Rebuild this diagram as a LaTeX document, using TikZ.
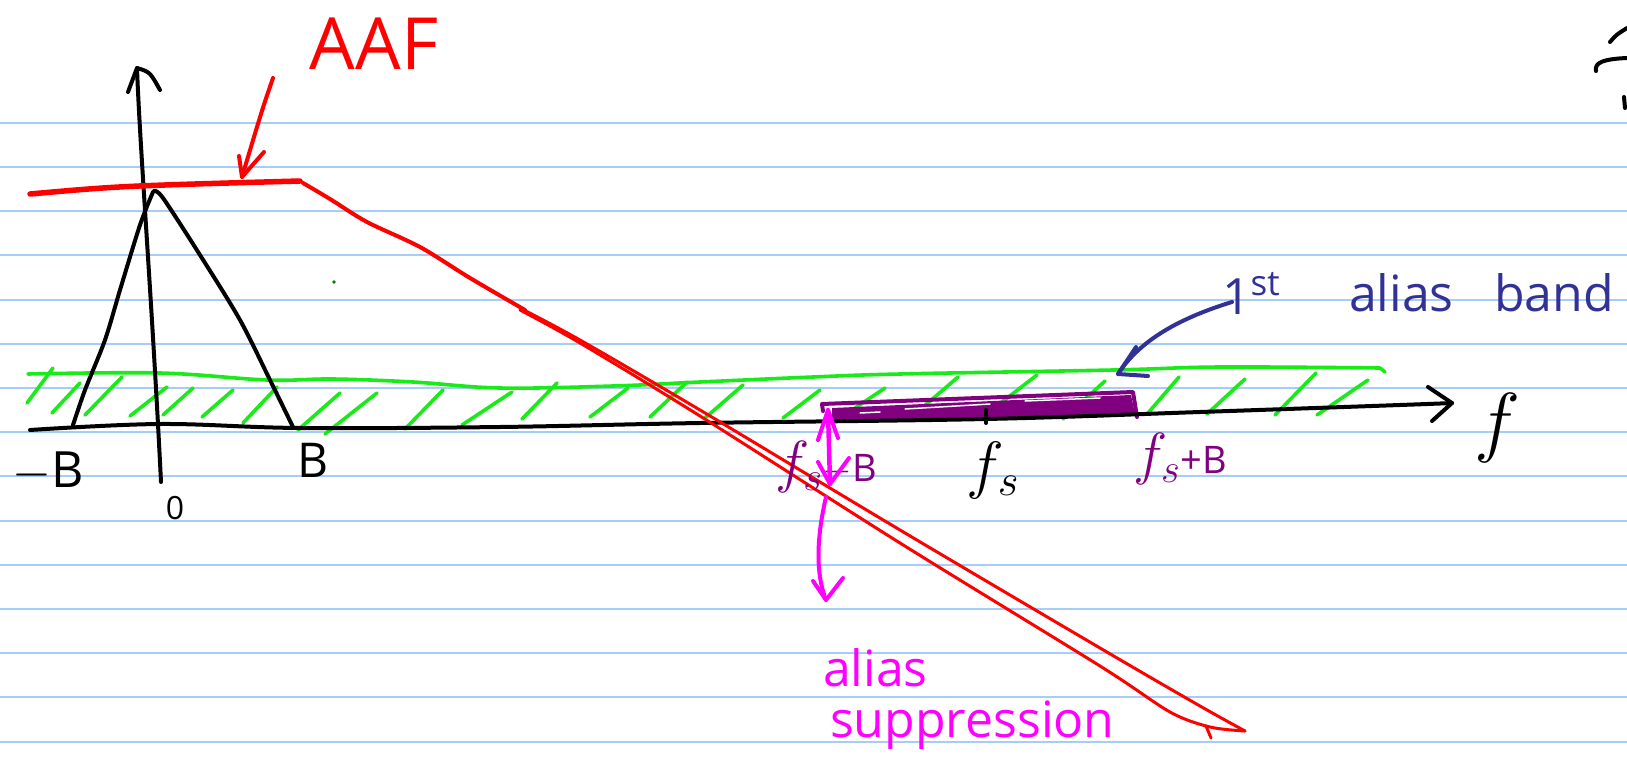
\RequirePackage{fix-cm}
\documentclass[tikz,border=0pt]{standalone}
\usepackage{fontspec}
\newfontfamily\hand{Open Sans}
\newcommand\penfs[1]{\fontsize{#1}{#1}\selectfont}
\definecolor{ruleblue}{RGB}{165,205,245}
\definecolor{penred}{RGB}{255,0,0}
\definecolor{pengreen}{RGB}{25,235,25}
\definecolor{penpurple}{RGB}{128,0,128}
\definecolor{penblue}{RGB}{50,50,150}
\definecolor{penmag}{RGB}{255,0,255}
\definecolor{dotgreen}{RGB}{0,120,0}
\begin{document}
\begin{tikzpicture}[x=1pt,y=-1pt,line cap=round,line join=round,
  ink/.style={line width=4pt},
  hatch/.style={pengreen,line width=3.6pt},
  lab/.style={inner sep=0pt,outer sep=0pt}]
\useasboundingbox (0,0) rectangle (1627,776);
\fill[white] (0,0) rectangle (1627,776);
% ruled paper
\foreach \k in {0,...,14}{\draw[ruleblue,line width=2pt] (0,{122.7+44.2*\k}) -- (1627,{122.7+44.2*\k});}

% green band (1st alias band region)
\draw[hatch] plot[smooth,tension=0.6] coordinates {(28,374) (160,373) (267,380) (333,379) (413,382) (500,388) (613,386) (700,382) (813,377) (900,374) (1113,370) (1220,367) (1380,368)} -- (1385,372);
\foreach \a/\b/\c/\d in {27/403/53/368, 52/413/80/383, 85/415/122/377, 130/416/167/387, 163/415/193/388, 202/417/233/390, 243/423/277/387, 298/430/340/393, 325/434/377/393, 405/429/443/390, 462/425/512/392, 522/419/557/383, 590/417/628/388, 650/417/687/382, 705/418/743/385, 783/418/820/390, 843/416/885/388, 915/414/958/377, 985/415/1037/375, 1063/419/1105/381, 1148/413/1179/377, 1207/414/1245/379, 1275/415/1316/373, 1317/415/1368/380}{\draw[hatch] (\a,\b) -- (\c,\d);}
\fill[dotgreen] (334,282) circle (1.8);

% purple alias band
\fill[penpurple] (832,408) -- (1131,395) -- (1135,414) -- (832,421) -- cycle;
\draw[penpurple,ink] (823,411) -- (822,404) -- (1133,392) -- (1137,417);
\draw[white,line width=1.5pt] (905,409) -- (990,404) (1025,401) -- (1100,398) (860,413) -- (880,412);

% black axes
\draw[black,ink] plot[smooth,tension=0.6] coordinates {(30,430) (160,424) (300,428) (500,427) (700,423) (986,419) (1200,412) (1400,405) (1452,403)};
\coordinate (ftip) at (1452,403);
\draw[black,ink] (1428,387) -- (ftip) -- (1432,421);
\coordinate (ybot) at (161,482);
\coordinate (ytip) at (137,68);
\draw[black,ink] (ybot) .. controls (152,300) and (140,150) .. (ytip);
\draw[black,ink] (128,92) -- (ytip) .. controls (150,72) .. (160,90);
% tick at fs
\draw[black,ink] (986,410) -- (986,423);

% baseband spectrum
\draw[black,ink] plot[smooth,tension=0.5] coordinates {(73,425) (85,390) (105,340) (120,290) (140,225) (153,192)};
\draw[black,ink] plot[smooth,tension=0.5] coordinates {(154,191) (163,198) (200,255) (240,320) (270,380) (293,427)};

% AAF response
\draw[penred,line width=5.5pt] (30,194) .. controls (120,186) .. (300,181);
\draw[penred,line width=4pt] plot[smooth,tension=0.5] coordinates {(303,183) (330,199) (367,222) (420,247) (470,278) (525,310)};
\draw[penred,line width=3pt] plot[smooth,tension=0.5] coordinates {(520,308) (580,340) (700,410) (900,530) (1100,648) (1200,706) (1245,731)};
\draw[penred,line width=3pt] plot[smooth,tension=0.5] coordinates {(520,310) (580,343) (700,416) (900,543) (1100,666) (1170,712) (1210,727) (1245,731)};
\draw[penred,line width=3pt] (1206,726) -- (1211,738);

% AAF label and arrow
\node[lab,penred] (aaf) at (374,44) {\hand\penfs{72}AAF};
\coordinate (aafFrom) at (273,78);
\coordinate (aafTo) at (242,177);
\draw[penred,ink] (aafFrom) .. controls (262,110) .. (aafTo);
\draw[penred,ink] (239,156) -- (aafTo) -- (264,152);

% axis labels
\node[lab] (lmB) at (48,472) {\hand\penfs{50}$-$B};
\node[lab] (lzero) at (175,508) {\hand\penfs{32}0};
\node[lab] (lB) at (313,460) {\hand\penfs{48}B};
\node[lab] (lf) at (1497,428) {\penfs{78}$f$};
\node[lab] (lfs) at (993,470) {\penfs{64}$f_s$};
\node[lab,penpurple] (lfsm) at (826,467) {\penfs{58}$f_s$\hand\penfs{38}$-$B};
\node[lab,penpurple] (lfsp) at (1180,459) {\penfs{58}$f_s$\hand\penfs{38}+B};

% 1st alias band label and arrow
\node[lab,anchor=base west,penblue] (t1st) at (1222,314) {\hand\penfs{50}1\textsuperscript{st}};
\node[lab,anchor=base west,penblue] (talias) at (1349,311) {\hand\penfs{50}alias};
\node[lab,anchor=base west,penblue] (tband) at (1494,311) {\hand\penfs{50}band};
\coordinate (bandFrom) at (1232,302);
\coordinate (bandTo) at (1118,374);
\draw[penblue,ink] (bandFrom) .. controls (1180,318) and (1140,340) .. (bandTo);
\draw[penblue,ink] (1136,347) -- (bandTo) -- (1148,376);

% alias suppression
\coordinate (supTop) at (828,410);
\coordinate (supBot) at (830,484);
\draw[penmag,line width=4.5pt] (supTop) -- (supBot);
\draw[penmag,line width=4pt] (818,440) -- (supTop) -- (838,438);
\draw[penmag,line width=4pt] (818,462) -- (supBot) -- (849,458);
\coordinate (curFrom) at (826,497);
\coordinate (curTo) at (826,600);
\draw[penmag,ink] (curFrom) .. controls (816,540) and (816,575) .. (curTo);
\draw[penmag,ink] (813,581) -- (curTo) -- (843,578);
\node[lab,anchor=base west,penmag] (talias2) at (823,686) {\hand\penfs{50}alias};
\node[lab,anchor=base west,penmag] (tsup) at (830,737) {\hand\penfs{50}suppression};

% partial mark at top right edge
\draw[black,ink] (1610,42) .. controls (1616,35) .. (1627,28);
\draw[black,ink] (1596,71) .. controls (1594,62) and (1605,59) .. (1627,58);
\draw[black,ink] (1624,97) -- (1625,108);
\end{tikzpicture}
\end{document}
